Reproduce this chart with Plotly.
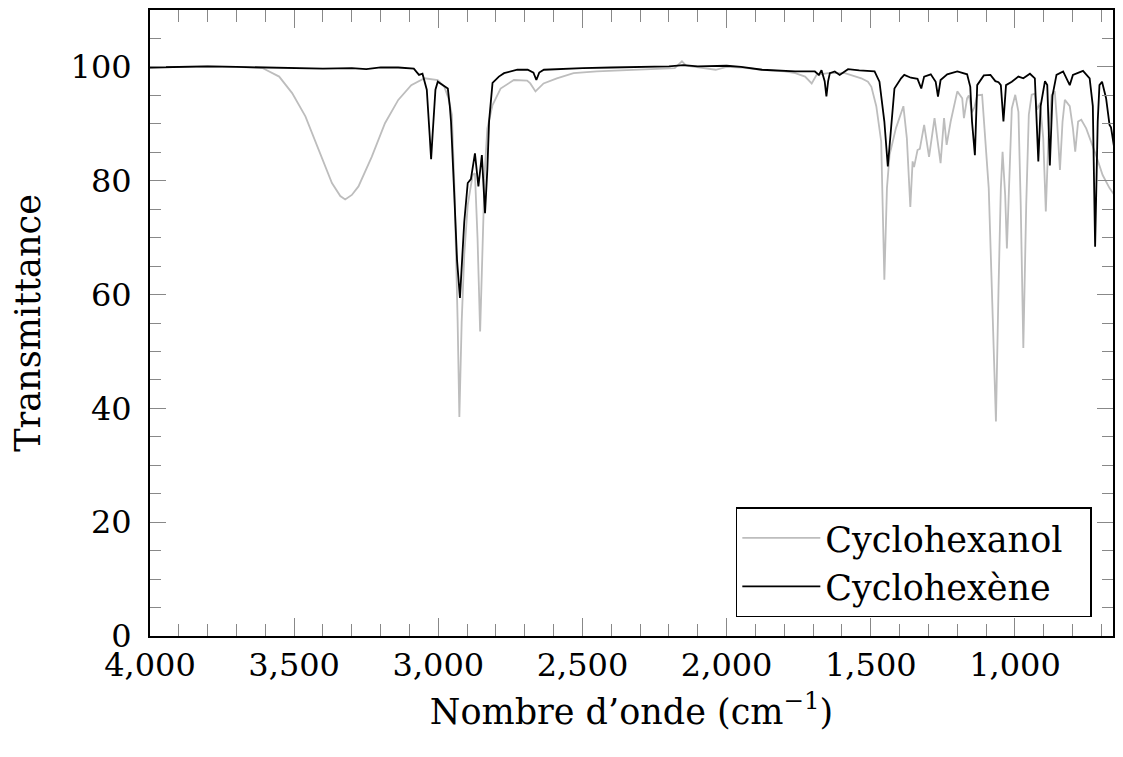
import plotly.graph_objects as go

# Cyclohexanol (grey) : wavenumber (cm-1), transmittance (%)
wn_ol = [4000, 3900, 3800, 3700, 3650, 3610, 3552, 3507, 3461, 3415, 3369, 3340, 3323, 3300,
         3277, 3231, 3185, 3139, 3094, 3048, 3002, 2979, 2965, 2953, 2944, 2933, 2927, 2919,
         2910, 2898, 2881, 2873, 2864, 2855, 2847, 2839, 2830, 2812, 2784, 2738, 2692, 2681,
         2663, 2635, 2589, 2531, 2450, 2350, 2250, 2180, 2155, 2140, 2080, 2038, 2000, 1950,
         1880, 1800, 1762, 1728, 1705, 1688, 1648, 1590, 1533, 1510, 1498, 1481, 1464, 1453,
         1444, 1435, 1413, 1387, 1375, 1363, 1355, 1350, 1338, 1330, 1315, 1298, 1279, 1258,
         1246, 1237, 1223, 1200, 1183, 1177, 1166, 1160, 1149, 1140, 1131, 1114, 1091, 1080,
         1066, 1057, 1049, 1043, 1034, 1028, 1020, 1011, 999, 988, 980, 971, 961, 952, 942,
         931, 923, 913, 902, 893, 884, 873, 862, 854, 844, 835, 827, 810, 799, 791, 781, 770,
         753, 736, 719, 696, 672, 655]
t_ol = [99.9, 100.0, 100.1, 100.0, 99.9, 99.8, 98.3, 95.4, 91.3, 85.4, 79.6, 77.3, 76.7, 77.5,
        79.0, 84.2, 90.1, 94.2, 96.8, 98.0, 97.7, 96.5, 94.5, 91.6, 78.7, 55.2, 38.5, 55.2,
        67.0, 75.7, 81.0, 81.3, 69.9, 53.5, 70.0, 81.6, 89.2, 93.3, 96.2, 97.7, 97.6, 97.1,
        95.7, 97.1, 98.0, 98.9, 99.2, 99.4, 99.6, 99.8, 101.0, 100.2, 99.8, 99.5, 100.0, 99.9,
        99.5, 99.2, 98.9, 98.3, 97.1, 98.6, 98.9, 98.9, 98.0, 97.4, 96.5, 93.1, 86.9, 62.6,
        78.7, 84.5, 89.2, 93.1, 87.5, 75.4, 83.4, 82.4, 85.4, 85.6, 89.8, 84.2, 91.0, 83.1,
        91.0, 86.3, 90.4, 95.7, 94.5, 91.0, 94.5, 95.0, 92.0, 93.0, 95.0, 95.1, 78.7, 61.1,
        37.7, 61.2, 78.7, 85.1, 77.5, 68.1, 81.6, 92.7, 95.1, 92.1, 75.7, 50.6, 75.7, 91.6, 95.1,
        95.3, 92.5, 93.7, 87.5, 74.6, 87.5, 95.1, 95.7, 90.4, 81.9, 90.4, 94.2, 93.1, 89.2, 85.1, 90.4, 90.7,
        89.2, 86.9, 84.5, 81.0, 78.7, 77.5]

# Cyclohexene (black)
wn_ene = [4000, 3900, 3800, 3700, 3600, 3500, 3400, 3300, 3250, 3200, 3139, 3085, 3067, 3055,
          3040, 3030, 3025, 3020, 3010, 3002, 2990, 2979, 2967, 2960, 2956, 2945, 2935, 2925,
          2918, 2910, 2898, 2887, 2873, 2861, 2849, 2838, 2830, 2824, 2812, 2790, 2772, 2726,
          2690, 2670, 2660, 2650, 2634, 2600, 2500, 2400, 2300, 2200, 2150, 2100, 2000, 1950,
          1877, 1800, 1762, 1694, 1680, 1671, 1660, 1654, 1648, 1642, 1625, 1608, 1579, 1540,
          1487, 1470, 1453, 1441, 1430, 1418, 1395, 1384, 1361, 1338, 1325, 1315, 1292, 1275,
          1267, 1258, 1235, 1200, 1166, 1155, 1149, 1139, 1131, 1108, 1085, 1068, 1057, 1049,
          1040, 1031, 1011, 988, 971, 948, 931, 919, 911, 904, 896, 888, 879, 870, 856, 833,
          816, 810, 799, 764, 741, 730, 722, 713, 707, 698, 684, 672, 667, 659, 655]
t_ene = [99.9, 100.0, 100.1, 100.0, 99.9, 99.9, 99.7, 99.8, 99.6, 99.9, 99.9, 99.7, 98.6, 98.8,
         96.0, 88.0, 83.8, 88.0, 96.0, 97.4, 97.0, 96.5, 96.2, 93.0, 90.4, 78.0, 66.0, 59.4,
         65.0, 72.8, 79.6, 80.3, 84.8, 79.0, 84.5, 74.3, 82.0, 90.4, 97.2, 98.3, 98.9, 99.5,
         99.5, 99.0, 97.7, 99.0, 99.5, 99.6, 99.8, 99.9, 100.0, 100.1, 100.3, 100.1, 100.2, 100.0,
         99.5, 99.3, 99.2, 99.2, 98.6, 99.4, 97.5, 94.8, 97.5, 98.9, 99.2, 98.6, 99.6, 99.4,
         99.2, 97.4, 90.4, 82.5, 88.6, 96.2, 98.0, 98.6, 98.1, 97.9, 96.2, 98.3, 98.7, 97.4,
         94.8, 97.7, 98.7, 99.2, 98.7, 96.5, 90.4, 84.5, 96.8, 98.5, 98.6, 97.5, 97.3, 96.8,
         90.4, 96.8, 97.4, 98.3, 98.0, 98.8, 98.0, 83.4, 93.1, 94.9, 97.5, 96.8, 82.7, 94.9, 98.6, 99.2,
         97.4, 96.8, 98.6, 99.3, 98.0, 93.1, 68.4, 90.4, 96.8, 97.4, 94.5, 89.8, 89.4, 86.9, 85.5]

x_ticks = [4000, 3500, 3000, 2500, 2000, 1500, 1000]
y_ticks = [0, 20, 40, 60, 80, 100]

FONT = "DejaVu Serif"
PAD = "\u00a0" * 2

fig = go.Figure()
fig.add_trace(go.Scatter(x=wn_ol, y=t_ol, mode="lines", name="Cyclohexanol" + PAD,
                         line=dict(color="#bdbdbd", width=1.8)))
fig.add_trace(go.Scatter(x=wn_ene, y=t_ene, mode="lines", name="Cyclohexène" + PAD,
                         line=dict(color="#000000", width=1.8)))

# the page body has an 8px default margin: size the figure so that the plot
# area lands where the reference has it and the page does not overflow
fig.update_layout(
    width=1107, height=741,
    margin=dict(l=142, r=0, t=2, b=113),
    paper_bgcolor="white", plot_bgcolor="white",
    font=dict(family=FONT, size=32, color="black"),
    showlegend=True,
    legend=dict(x=0.978, y=0.03, xanchor="right", yanchor="bottom",
                bordercolor="black", borderwidth=1.5, bgcolor="white",
                font=dict(family=FONT, size=35), tracegroupgap=0,
                itemwidth=78),
    xaxis=dict(range=[4000, 660], tickvals=x_ticks, tickformat=",",
               showline=True, linecolor="black", linewidth=2, mirror="allticks",
               ticks="inside", ticklen=18, tickcolor="#888888", tickwidth=1,
               minor=dict(dtick=100, ticks="inside", ticklen=12, tickcolor="#888888", tickwidth=1),
               showgrid=False, zeroline=False,
               title=dict(text="Nombre d’onde (cm<sup>−1</sup>)", standoff=16,
                          font=dict(size=35)),
               ticklabelstandoff=0),
    yaxis=dict(range=[0, 110], tickvals=y_ticks,
               showline=True, linecolor="black", linewidth=2, mirror="allticks",
               ticks="inside", ticklen=16, tickcolor="#888888", tickwidth=1,
               minor=dict(dtick=5, ticks="inside", ticklen=11, tickcolor="#888888", tickwidth=1),
               showgrid=False, zeroline=False,
               title=dict(text="Transmittance", standoff=20, font=dict(size=35)),
               ticklabelstandoff=10),
)

fig.write_html("out.html")
